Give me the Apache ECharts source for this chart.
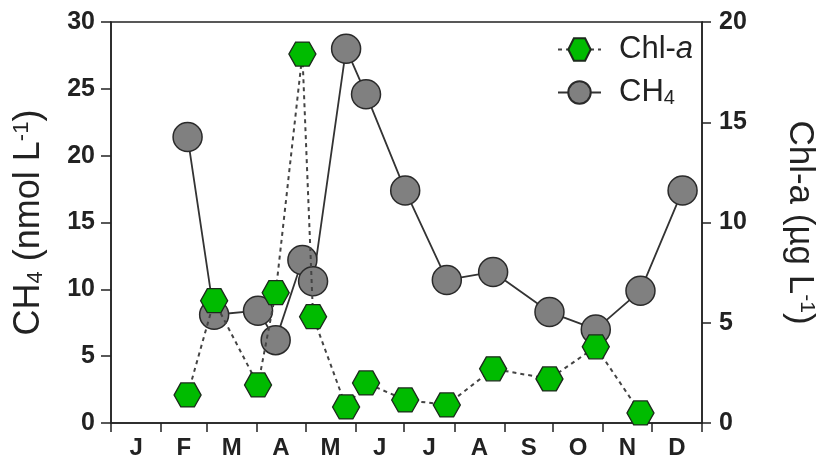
<!DOCTYPE html>
<html><head><meta charset="utf-8">
<script src="https://cdn.jsdelivr.net/npm/echarts@6/dist/echarts.min.js"></script>
<style>html,body{margin:0;padding:0;background:#fff}#c{width:825px;height:471px}</style>
</head><body><div id="c"></div>
<script>
// Sampling dates (day of year)
const sampleDays = [47.3, 63.7, 90.8, 101.7, 118.2, 124.8, 145.2, 157.5, 181.7, 207.4, 236, 270.8, 299.4, 327, 353];
// CH4 (nmol L-1), left axis
const ch4 = [21.4, 8.1, 8.4, 6.2, 12.2, 10.6, 28.0, 24.6, 17.4, 10.7, 11.3, 8.3, 7.0, 9.9, 17.4];
// Chl-a (µg L-1), right axis
const chla = [1.4, 6.1, 1.9, 6.5, 18.4, 5.3, 0.8, 2.0, 1.15, 0.9, 2.7, 2.2, 3.8, 0.5, null];
// Month boundaries (ticks) and month label positions
const monthStarts = [0, 31, 59, 90, 120, 151, 181, 212, 243, 273, 304, 334, 365];
const monthMids = [15.5, 45, 74.5, 105, 135.5, 166, 196.5, 227.5, 258, 288.5, 319, 349.5];
const monthLabels = ['J', 'F', 'M', 'A', 'M', 'J', 'J', 'A', 'S', 'O', 'N', 'D'];
const leftTicks = [0, 5, 10, 15, 20, 25, 30];
const rightTicks = [0, 5, 10, 15, 20];

const hexPath = 'path://M0,0.5 L0.25,0 L0.75,0 L1,0.5 L0.75,1 L0.25,1 Z';
const FONT = 'Liberation Sans, Arial, sans-serif';
const axisCol = '#222';

const chart = echarts.init(document.getElementById('c'), null, {renderer: 'canvas'});
const midLabelMap = {};
monthMids.forEach((m, i) => { midLabelMap[m] = monthLabels[i]; });

chart.setOption({
  animation: false,
  backgroundColor: '#fff',
  grid: {left: 108, right: 115, top: 22, bottom: 48, show: true, borderColor: axisCol, borderWidth: 1.5, backgroundColor: 'transparent'},
  legend: {
    orient: 'vertical', left: 552, top: 29, itemWidth: 43, itemHeight: 28, itemGap: 9,
    data: ['Chl-a', 'CH4'],
    formatter: n => n === 'Chl-a' ? '{n|Chl-}{i|a}' : '{n|CH}{s|4}',
    textStyle: {
      fontFamily: FONT, fontSize: 31, color: '#222', padding: [0, 0, 0, 13],
      rich: {
        n: {fontFamily: FONT, fontSize: 31, color: '#222'},
        i: {fontFamily: FONT, fontSize: 31, color: '#222', fontStyle: 'italic'},
        s: {fontFamily: FONT, fontSize: 20, color: '#222', verticalAlign: 'bottom', lineHeight: 14, padding: [14, 0, 0, 0]}
      }
    }
  },
  xAxis: {
    type: 'value', min: 0, max: 365,
    axisLine: {lineStyle: {color: axisCol, width: 1.5}},
    axisTick: {show: true, length: 9, customValues: monthStarts, lineStyle: {color: axisCol, width: 1.5}},
    splitLine: {show: false},
    axisLabel: {
      customValues: monthMids, margin: 13,
      formatter: v => midLabelMap[v] || '',
      fontFamily: FONT, fontSize: 24, fontWeight: 'bold', color: '#222'
    }
  },
  yAxis: [
    {
      type: 'value', min: 0, max: 30, interval: 5, position: 'left',
      axisLine: {show: true, lineStyle: {color: axisCol, width: 1.5}},
      axisTick: {show: true, length: 10, lineStyle: {color: axisCol, width: 1.5}},
      splitLine: {show: false},
      axisLabel: {customValues: leftTicks, margin: 16, fontFamily: FONT, fontSize: 25, fontWeight: 'bold', color: '#222'},
      name: '{n|CH}{s|4}{n| (nmol L}{p|-1}{n|)}',
      nameLocation: 'middle', nameGap: 64,
      nameTextStyle: {
        fontFamily: FONT, fontSize: 36, color: '#222',
        rich: {
          n: {fontFamily: FONT, fontSize: 36, color: '#222'},
          s: {fontFamily: FONT, fontSize: 22, color: '#222', verticalAlign: 'bottom', lineHeight: 14, padding: [17, 0, 0, 0]},
          p: {fontFamily: FONT, fontSize: 22, color: '#222', verticalAlign: 'top', lineHeight: 14, padding: [0, 0, 15, 0]}
        }
      }
    },
    {
      type: 'value', min: 0, max: 20, interval: 5, position: 'right',
      axisLine: {show: true, lineStyle: {color: axisCol, width: 1.5}},
      axisTick: {show: true, length: 9, lineStyle: {color: axisCol, width: 1.5}},
      splitLine: {show: false},
      axisLabel: {customValues: rightTicks, margin: 17, fontFamily: FONT, fontSize: 25, fontWeight: 'bold', color: '#222'},
      name: '{n|Chl-a (µg L}{p|-1}{n|)}',
      nameLocation: 'middle', nameGap: 80, nameRotate: -90,
      nameTextStyle: {
        fontFamily: FONT, fontSize: 35, color: '#222',
        rich: {
          n: {fontFamily: FONT, fontSize: 35, color: '#222'},
          p: {fontFamily: FONT, fontSize: 21, color: '#222', verticalAlign: 'top', lineHeight: 14, padding: [0, 0, 15, 0]}
        }
      }
    }
  ],
  series: [
    {
      name: 'CH4', type: 'line', yAxisIndex: 0,
      data: sampleDays.map((d, i) => [d, ch4[i]]),
      symbol: 'circle', symbolSize: 29,
      lineStyle: {color: '#333', width: 1.8},
      itemStyle: {color: '#808080', borderColor: '#2a2a2a', borderWidth: 1.5},
      z: 2
    },
    {
      name: 'Chl-a', type: 'line', yAxisIndex: 1,
      data: sampleDays.map((d, i) => [d, chla[i]]).filter(p => p[1] !== null),
      symbol: hexPath, symbolSize: [27, 24],
      lineStyle: {color: '#444', width: 2, type: [4, 4]},
      itemStyle: {color: '#00bb00', borderColor: '#1c2a1c', borderWidth: 1.3},
      z: 3
    }
  ]
});
</script>
</body></html>
